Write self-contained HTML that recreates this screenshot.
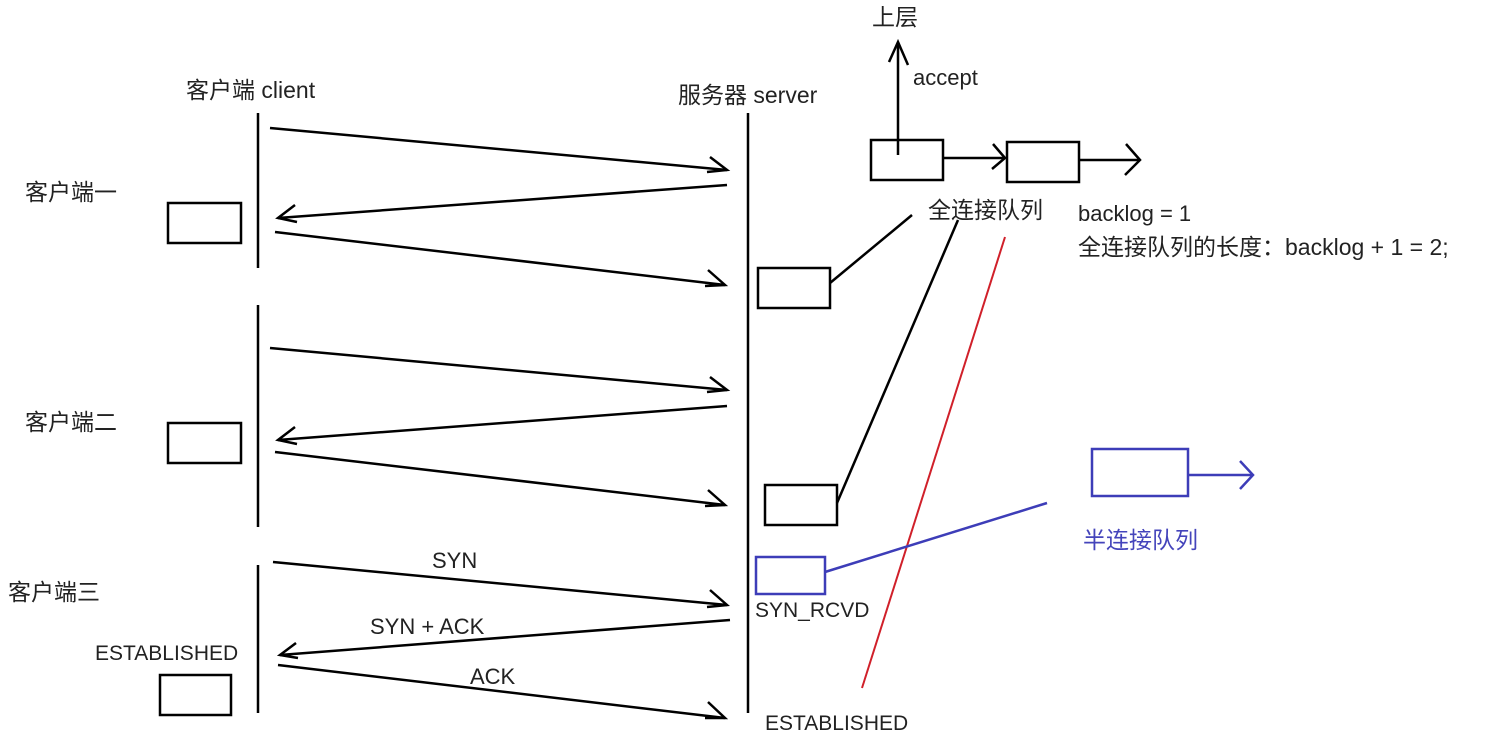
<!DOCTYPE html>
<html><head><meta charset="utf-8"><style>
html,body{margin:0;padding:0;background:#fff;}
svg{display:block}
text{font-family:"Liberation Sans","Noto Sans CJK SC",sans-serif;font-size:22px;fill:#222}
.c{font-size:23px}
</style></head><body>
<svg width="1488" height="736" viewBox="0 0 1488 736" xmlns="http://www.w3.org/2000/svg">
<g stroke="#000" stroke-width="2.5" fill="none">
<line x1="258" y1="113" x2="258" y2="268"/>
<line x1="258" y1="305" x2="258" y2="527"/>
<line x1="258" y1="565" x2="258" y2="713"/>
<line x1="748" y1="113" x2="748" y2="713"/>
<polyline points="270,128 727,170"/><polyline points="710,157 727,170 707,172"/>
<polyline points="727,185 278,218"/><polyline points="295,205 278,218 297,222"/>
<polyline points="275,232 725,285"/><polyline points="708,270 725,285 705,286"/>
<polyline points="270,348 727,390"/><polyline points="710,377 727,390 707,392"/>
<polyline points="727,406 278,440"/><polyline points="295,427 278,440 297,444"/>
<polyline points="275,452 725,505"/><polyline points="708,490 725,505 705,506"/>
<polyline points="273,562 727,605"/><polyline points="710,590 727,605 707,607"/>
<polyline points="730,620 280,655"/><polyline points="296,643 280,655 298,658"/>
<polyline points="278,665 725,718"/><polyline points="708,702 725,718 705,718"/>
<rect x="168" y="203" width="73" height="40"/>
<rect x="168" y="423" width="73" height="40"/>
<rect x="160" y="675" width="71" height="40"/>
<rect x="758" y="268" width="72" height="40"/>
<rect x="765" y="485" width="72" height="40"/>
<rect x="871" y="140" width="72" height="40"/>
<rect x="1007" y="142" width="72" height="40"/>
<line x1="830" y1="283" x2="912" y2="215"/>
<line x1="837" y1="503" x2="958" y2="220"/>
<line x1="898" y1="155" x2="898" y2="42"/><polyline points="889,62 898,42 908,65"/>
<line x1="943" y1="158" x2="1005" y2="158"/><polyline points="993,144 1005,158 992,169"/>
<line x1="1079" y1="160" x2="1140" y2="160"/><polyline points="1126,144 1140,160 1125,175"/>
</g>
<line x1="1005" y1="237" x2="862" y2="688" stroke="#d0202a" stroke-width="2"/>
<g stroke="#3d3db8" stroke-width="2.5" fill="none">
<rect x="756" y="557" width="69" height="37"/>
<line x1="825" y1="572" x2="1047" y2="503"/>
<rect x="1092" y="449" width="96" height="47"/>
<line x1="1188" y1="475" x2="1253" y2="475"/><polyline points="1240,461 1253,475 1240,489"/>
</g>
<text x="872" y="25" class="c">上层</text>
<text x="913" y="85">accept</text>
<text x="186" y="98" style="font-size:23px">客户端 client</text>
<text x="678" y="103" style="font-size:23px">服务器 server</text>
<text x="25" y="200" style="font-size:23px">客户端一</text>
<text x="25" y="430" style="font-size:23px">客户端二</text>
<text x="8" y="600" style="font-size:23px">客户端三</text>
<text x="928" y="218" class="c">全连接队列</text>
<text x="1078" y="221">backlog = 1</text>
<text x="1078" y="255" style="font-size:23px">全连接队列的长度：backlog + 1 = 2;</text>
<text x="1083" y="548" class="c" style="fill:#4444bb">半连接队列</text>
<text x="432" y="568">SYN</text>
<text x="370" y="634">SYN + ACK</text>
<text x="470" y="684">ACK</text>
<text x="95" y="660" style="font-size:21px">ESTABLISHED</text>
<text x="755" y="617" style="font-size:21px">SYN_RCVD</text>
<text x="765" y="730" style="font-size:21px">ESTABLISHED</text>
</svg>
</body></html>
